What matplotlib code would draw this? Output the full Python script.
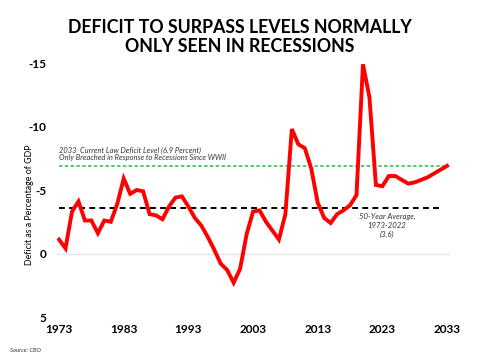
import matplotlib
matplotlib.use("Agg")
import matplotlib.pyplot as plt

years = list(range(1973, 2034))
deficit = [1.1, 0.4, 3.3, 4.1, 2.6, 2.6, 1.6, 2.6, 2.5, 3.9,
           5.9, 4.7, 5.0, 4.9, 3.1, 3.0, 2.7, 3.7, 4.4, 4.5,
           3.7, 2.8, 2.2, 1.3, 0.3, -0.8, -1.3, -2.3, -1.2, 1.5,
           3.3, 3.4, 2.5, 1.8, 1.1, 3.1, 9.8, 8.6, 8.3, 6.7,
           4.0, 2.8, 2.4, 3.1, 3.4, 3.8, 4.6, 14.9, 12.3, 5.4,
           5.3, 6.1, 6.1, 5.8, 5.5, 5.6, 5.8, 6.0, 6.3, 6.6, 6.9]
plot_vals = [-v for v in deficit]
current_law_2033 = 6.9
avg_50yr = 3.6
xticks = [1973, 1983, 1993, 2003, 2013, 2023, 2033]
yticks = [-15, -10, -5, 0, 5]

plt.rcParams['font.family'] = ['Lato', 'DejaVu Sans']

fig = plt.figure(figsize=(4.8, 3.6), dpi=100)
ax = fig.add_axes([0.119, 0.1194, 0.8185, 0.7056])

ax.axhline(0, color='#e3e3e3', lw=0.9, zorder=1)
ax.plot([1973, 2033], [-current_law_2033] * 2, color='#22bb44', lw=1.1,
        ls=(0, (2.2, 1.6)), zorder=2)
ax.plot([1973, 2032.4], [-avg_50yr] * 2, color='black', lw=1.4,
        ls=(0, (3, 2.2)), zorder=2)
ax.plot(years, plot_vals, color='#ff0000', lw=2.8, zorder=3,
        solid_joinstyle='miter')

ax.set_xlim(1972.7, 2033.46)
ax.set_ylim(5, -15)
ax.set_xticks(xticks)
ax.set_yticks(yticks)
ax.set_yticklabels([str(t) for t in yticks])
ax.tick_params(length=0, labelsize=8.5)
for lbl in ax.get_xticklabels() + ax.get_yticklabels():
    lbl.set_fontweight('bold')
ax.tick_params(axis='x', pad=5)
ax.tick_params(axis='y', pad=8)
for s in ax.spines.values():
    s.set_visible(False)

ax.set_ylabel('Deficit as a Percentage of GDP', fontsize=6.4)
ax.yaxis.set_label_coords((34 - 57) / 393.0, (317 - 205) / 254.0)

ax.text(1973, -7.8, '2033  Current Law Deficit Level (6.9 Percent)',
        fontsize=5.4, style='italic', color='#333333', va='bottom', ha='left')
ax.text(1973, -7.3, 'Only Breached in Response to Recessions Since WWII',
        fontsize=5.4, style='italic', color='#333333', va='bottom', ha='left')
ax.text(2023.7, -3.2, '50-Year Average,\n1973-2022\n(3.6)', fontsize=5.6,
        style='italic', color='#333333', va='top', ha='center',
        linespacing=1.35)

fig.text(0.5, 0.897, 'DEFICIT TO SURPASS LEVELS NORMALLY\nONLY SEEN IN RECESSIONS',
         ha='center', va='center', fontsize=12.8, fontweight='bold',
         linespacing=1.12)
fig.text(0.02, 0.02, 'Source: CBO', fontsize=4.2, style='italic',
         color='#333333', ha='left', va='bottom')

fig.savefig('out.png', dpi=100)
